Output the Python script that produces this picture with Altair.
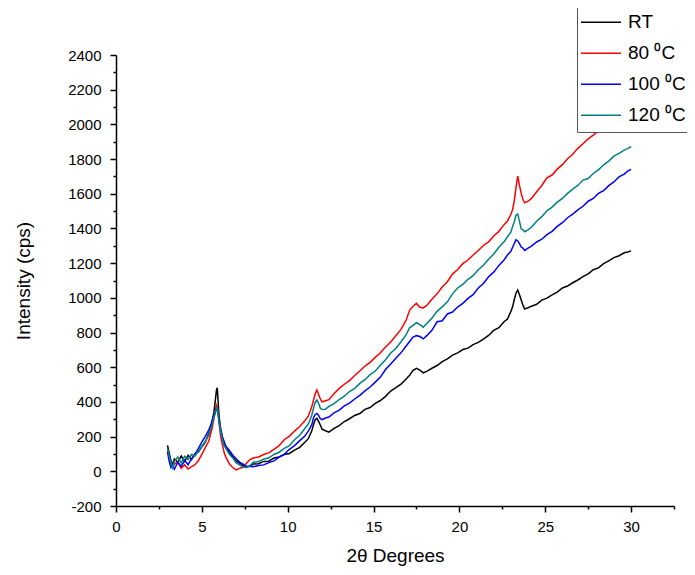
import altair as alt
import pandas as pd

# 2-theta positions (degrees)
two_theta = [
    3.0, 3.1, 3.2, 3.3, 3.4, 3.6, 3.8, 4.0, 4.2, 4.4,
    4.6, 4.8, 5.0, 5.2, 5.4, 5.5, 5.6, 5.7, 5.8, 5.85,
    5.9, 5.95, 6.0, 6.1, 6.2, 6.3, 6.4, 6.6, 6.8, 7.0,
    7.2, 7.4, 7.6, 7.8, 8.0, 8.3, 8.6, 8.9, 9.2, 9.5,
    9.8, 10.1, 10.4, 10.7, 11.0, 11.2, 11.4, 11.5, 11.6, 11.7,
    11.8, 11.9, 12.0, 12.2, 12.4, 12.7, 13.0, 13.3, 13.6, 13.9,
    14.2, 14.5, 14.8, 15.1, 15.4, 15.7, 16.0, 16.3, 16.6, 16.9,
    17.1, 17.3, 17.5, 17.7, 17.9, 18.1, 18.4, 18.7, 19.0, 19.3,
    19.6, 19.9, 20.2, 20.5, 20.8, 21.1, 21.4, 21.7, 22.0, 22.3,
    22.6, 22.8, 23.0, 23.1, 23.2, 23.3, 23.4, 23.5, 23.6, 23.7,
    23.8, 24.0, 24.2, 24.5, 24.8, 25.1, 25.4, 25.7, 26.0, 26.3,
    26.6, 26.9, 27.2, 27.5, 27.8, 28.1, 28.4, 28.7, 29.0, 29.3,
    29.6, 29.8, 30.0,
]

rt = [
    150, 105, 62, 38, 72, 52, 88, 58, 92, 68,
    102, 112, 142, 168, 218, 242, 292, 338, 422, 468,
    482, 398, 322, 238, 192, 158, 142, 108, 82, 58,
    47, 33, 27, 30, 42, 44, 57, 58, 77, 83,
    97, 103, 122, 138, 167, 188, 232, 268, 297, 305,
    288, 267, 243, 234, 226, 247, 263, 287, 303, 322,
    333, 357, 368, 392, 408, 432, 463, 482, 503, 532,
    553, 582, 594, 583, 568, 576, 594, 610, 632, 648,
    670, 683, 702, 710, 730, 743, 762, 783, 812, 828,
    862, 878, 922, 948, 992, 1028, 1045, 1018, 987, 958,
    936, 943, 952, 963, 987, 998, 1017, 1033, 1057, 1068,
    1087, 1103, 1122, 1138, 1162, 1173, 1197, 1213, 1232, 1243,
    1260, 1264, 1271,
]

c80 = [
    125, 82, 47, 22, 42, 53, 18, 37, 13, 27,
    38, 62, 98, 137, 173, 212, 248, 302, 358, 382,
    372, 328, 282, 198, 152, 108, 82, 43, 22, 8,
    17, 23, 47, 68, 77, 83, 97, 106, 127, 148,
    182, 203, 232, 258, 292, 318, 372, 408, 447, 469,
    443, 417, 400, 407, 413, 447, 478, 502, 523, 552,
    578, 607, 628, 657, 683, 717, 745, 782, 818, 872,
    928, 952, 968, 946, 942, 956, 992, 1023, 1062, 1093,
    1137, 1163, 1197, 1218, 1247, 1273, 1302, 1323, 1357, 1383,
    1422, 1443, 1482, 1508, 1562, 1638, 1702, 1648, 1602, 1568,
    1548, 1557, 1573, 1612, 1648, 1692, 1708, 1742, 1768, 1802,
    1828, 1862, 1888, 1917, 1938, 1962, 1973, 2002, 2028, 2062,
    2083, 2102, 2118,
]

c100 = [
    112, 58, 22, 38, 12, 52, 28, 62, 38, 72,
    98, 132, 168, 202, 238, 262, 288, 322, 348, 362,
    355, 332, 288, 242, 198, 172, 143, 122, 93, 72,
    53, 42, 28, 27, 26, 34, 37, 50, 60, 82,
    98, 127, 148, 177, 203, 232, 268, 307, 328, 334,
    322, 303, 298, 307, 313, 337, 353, 377, 393, 417,
    438, 464, 486, 514, 543, 587, 618, 652, 683, 722,
    748, 774, 782, 777, 764, 782, 813, 862, 868, 907,
    918, 947, 968, 997, 1018, 1057, 1083, 1122, 1148, 1187,
    1218, 1247, 1268, 1292, 1313, 1335, 1328, 1312, 1293, 1287,
    1273, 1287, 1298, 1322, 1338, 1364, 1383, 1412, 1433, 1462,
    1483, 1507, 1528, 1557, 1573, 1602, 1618, 1647, 1668, 1697,
    1713, 1730, 1741,
]

c120 = [
    132, 88, 52, 12, 58, 82, 48, 87, 68, 97,
    88, 117, 143, 172, 208, 242, 268, 312, 343, 367,
    370, 338, 292, 228, 182, 148, 132, 98, 77, 48,
    37, 23, 22, 33, 52, 56, 70, 78, 97, 110,
    132, 148, 182, 208, 247, 273, 322, 363, 397, 411,
    392, 363, 357, 358, 374, 390, 414, 433, 460, 478,
    507, 528, 557, 578, 612, 643, 682, 708, 747, 788,
    827, 841, 857, 846, 831, 852, 883, 922, 948, 977,
    1023, 1057, 1078, 1107, 1128, 1162, 1188, 1222, 1253, 1292,
    1323, 1352, 1378, 1412, 1438, 1477, 1483, 1442, 1398, 1392,
    1381, 1392, 1408, 1442, 1468, 1502, 1523, 1552, 1573, 1602,
    1627, 1648, 1679, 1688, 1717, 1738, 1767, 1788, 1817, 1833,
    1852, 1860, 1871,
]

series_names = ["RT", "80 \u2070C", "100 \u2070C", "120 \u2070C"]
series_colors = ["#000000", "#ff0000", "#0000ff", "#008080"]
x_ticks = [i * 2.5 for i in range(14)]
y_ticks = list(range(-200, 2401, 100))

rows = []
for name, vals in zip(series_names, [rt, c80, c100, c120]):
    for i, (xv, yv) in enumerate(zip(two_theta, vals)):
        rows.append({"sample": name, "two_theta": xv, "intensity": yv, "idx": i})
df = pd.DataFrame(rows)

FONT = "Liberation Sans"

x_axis = alt.Axis(
    values=x_ticks,
    title="2\u03b8 Degrees",
    labelExpr="datum.value % 5 === 0 ? toString(datum.value) : ''",
    tickSize={"condition": {"test": "datum.value % 5 !== 0", "value": 3}, "value": 6},
    labelPadding=7,
    labelFlush=False,
    labelOverlap=False,
    titlePadding=12,
)
y_axis = alt.Axis(
    values=y_ticks,
    title="Intensity (cps)",
    labelExpr="datum.value % 200 === 0 ? toString(datum.value) : ''",
    tickSize={"condition": {"test": "datum.value % 200 !== 0", "value": 3}, "value": 6},
    labelPadding=9,
    labelOverlap=False,
    titlePadding=34,
)

chart = (
    alt.Chart(df)
    .mark_line(strokeWidth=1.5)
    .encode(
        x=alt.X("two_theta:Q", scale=alt.Scale(domain=[0, 32.5], nice=False, zero=False), axis=x_axis),
        y=alt.Y("intensity:Q", scale=alt.Scale(domain=[-200, 2400], nice=False, zero=False), axis=y_axis),
        color=alt.Color(
            "sample:N",
            scale=alt.Scale(domain=series_names, range=series_colors),
            sort=series_names,
            legend=alt.Legend(
                orient="none",
                legendX=461,
                legendY=-49,
                title=None,
                symbolType="stroke",
                symbolSize=1600,
                symbolStrokeWidth=1.3,
                symbolOffset=2,
                clipHeight=30.5,
                labelFont=FONT,
                labelFontSize=19,
                labelColor="#000000",
                labelOffset=6,
                strokeColor="#555555",
                fillColor="#ffffff",
                padding=1,
                rowPadding=0,
                labelLimit=300,
            ),
        ),
        order=alt.Order("idx:Q"),
    )
    .properties(
        width=558,
        height=451,
        padding={"left": 108, "top": 47, "right": 13, "bottom": 61},
        autosize=alt.AutoSizeParams(type="none"),
    )
    .configure_view(stroke=None)
    .configure_axis(
        grid=False,
        domainColor="#000000",
        domainWidth=1.5,
        tickColor="#000000",
        tickWidth=1.5,
        labelFont=FONT,
        labelFontSize=15,
        labelColor="#000000",
        titleFont=FONT,
        titleFontSize=19,
        titleFontWeight="normal",
        titleColor="#000000",
    )
)

chart.save("out.html", embed_options={"renderer": "svg", "actions": False})
